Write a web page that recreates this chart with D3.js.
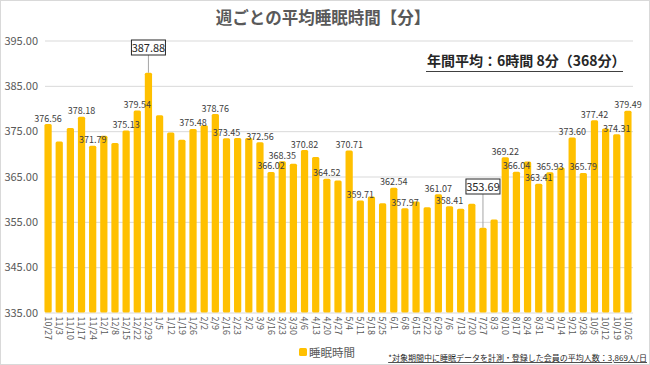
<!DOCTYPE html>
<html>
<head>
<meta charset="utf-8">
<script src="https://cdn.jsdelivr.net/npm/d3@7"></script>
<style>
  body { margin: 0; background: #fff; }
  text { font-family: "Noto Sans CJK JP", "Noto Sans", sans-serif; }
</style>
</head>
<body>
<script>
const w = 650;
const h = 365;

// 週（開始日）
const weeks = ["10/27","11/3","11/10","11/17","11/24","12/1","12/8","12/15","12/22","12/29",
  "1/5","1/12","1/19","1/26","2/2","2/9","2/16","2/23","3/2","3/9","3/16","3/23","3/30",
  "4/6","4/13","4/20","4/27","5/4","5/11","5/18","5/25","6/1","6/8","6/15","6/22","6/29",
  "7/6","7/13","7/20","7/27","8/3","8/10","8/17","8/24","8/31","9/7","9/14","9/21","9/28",
  "10/5","10/12","10/19","10/26"];

// 平均睡眠時間（分）
const sleepMinutes = [376.56,372.7,375.7,378.18,371.79,374.0,372.4,375.13,379.54,387.88,
  378.5,374.7,373.1,375.48,376.3,378.76,373.45,373.5,373.5,372.56,366.02,368.35,367.8,
  370.82,369.3,364.52,364.1,370.71,359.71,360.6,359.1,362.54,357.97,359.5,358.2,361.07,
  358.41,357.9,359.0,353.69,355.5,369.22,366.04,368.3,363.41,365.93,367.0,373.60,365.79,
  377.42,375.6,374.31,379.49];

// ラベルを表示する週と、枠付きで強調する週
const labeledWeeks = ["10/27","11/17","11/24","12/15","12/22","1/26","2/9","2/16","3/9",
  "3/16","3/23","4/6","4/20","5/4","5/11","6/1","6/8","6/29","7/6","8/10","8/17","8/31",
  "9/7","9/21","9/28","10/5","10/19","10/26"];
const boxedWeeks = ["12/29","7/27"];

const yTicks = [335,345,355,365,375,385,395];

const data = weeks.map((d, i) => ({ week: d, value: sleepMinutes[i] }));

const xScale = d3.scaleBand()
  .domain(weeks)
  .range([42.5, 633.5])
  .paddingInner(0.35)
  .paddingOuter(0.175);

const yScale = d3.scaleLinear()
  .domain([335, 395])
  .range([312.5, 40.5]);

const svg = d3.select("body").append("svg").attr("width", w).attr("height", h);

// 外枠
svg.append("rect")
  .attr("x", 0.5).attr("y", 0.5)
  .attr("width", w - 1).attr("height", h - 1)
  .attr("fill", "#fff")
  .attr("stroke", "#d9d9d9");

// タイトル
svg.append("text")
  .attr("x", 323).attr("y", 24)
  .attr("text-anchor", "middle")
  .attr("font-size", "16.5px")
  .attr("font-weight", "bold")
  .attr("fill", "#595959")
  .text("週ごとの平均睡眠時間【分】");

// Y軸（グリッド線つき）
const yAxis = d3.axisLeft(yScale)
  .tickValues(yTicks)
  .tickSize(-(633 - 45))
  .tickFormat(d3.format(".2f"));

const yG = svg.append("g")
  .attr("transform", "translate(45,0)")
  .call(yAxis);
yG.select(".domain").remove();
yG.selectAll(".tick line").attr("stroke", "#d9d9d9");
yG.selectAll(".tick text")
  .attr("x", -7)
  .attr("font-size", "11px")
  .attr("fill", "#595959");

// 年間平均
svg.append("text")
  .attr("x", 427).attr("y", 66)
  .attr("font-size", "14px")
  .attr("font-weight", "bold")
  .attr("fill", "#262626")
  .text("年間平均：6時間 8分（368分）");
svg.append("line")
  .attr("x1", 426).attr("x2", 623)
  .attr("y1", 71.5).attr("y2", 71.5)
  .attr("stroke", "#404040")
  .attr("stroke-width", 1.2);

// 棒
svg.append("g")
  .selectAll("rect")
  .data(data)
  .enter()
  .append("rect")
  .attr("x", d => xScale(d.week))
  .attr("y", d => yScale(d.value))
  .attr("width", xScale.bandwidth())
  .attr("height", d => yScale(335) - yScale(d.value))
  .attr("rx", 1.5)
  .attr("fill", "#FFC000");

// X軸
const xAxis = d3.axisBottom(xScale).tickSize(0);
const xG = svg.append("g")
  .attr("transform", "translate(0," + yScale(335) + ")")
  .call(xAxis);
xG.select(".domain").remove();
xG.selectAll(".tick text")
  .attr("transform", "rotate(90)")
  .attr("x", 4)
  .attr("y", 0)
  .attr("dy", "0.35em")
  .attr("text-anchor", "start")
  .attr("font-size", "9px")
  .attr("fill", "#595959");

// データラベル
svg.append("g")
  .selectAll("text")
  .data(data.filter(d => labeledWeeks.includes(d.week)))
  .enter()
  .append("text")
  .attr("x", d => xScale(d.week) + xScale.bandwidth() / 2)
  .attr("y", d => yScale(d.value) - 2.5)
  .attr("text-anchor", "middle")
  .attr("font-size", "9px")
  .attr("fill", "#404040")
  .text(d => d.value.toFixed(2));

// 枠付きラベル（最大・最小）
const boxed = svg.append("g")
  .selectAll("g")
  .data(data.filter(d => boxedWeeks.includes(d.week)))
  .enter()
  .append("g");

const boxTop = d => d.value > 380 ? 40 : 179;

boxed.append("line")
  .attr("x1", d => xScale(d.week) + xScale.bandwidth() / 2)
  .attr("x2", d => xScale(d.week) + xScale.bandwidth() / 2)
  .attr("y1", d => boxTop(d) + 15)
  .attr("y2", d => yScale(d.value))
  .attr("stroke", "#a6a6a6")
  .attr("stroke-width", 1);

boxed.append("rect")
  .attr("x", d => xScale(d.week) + xScale.bandwidth() / 2 - 17)
  .attr("y", d => boxTop(d))
  .attr("width", 34)
  .attr("height", 15)
  .attr("fill", "#fff")
  .attr("stroke", "#262626")
  .attr("stroke-width", 1);

boxed.append("text")
  .attr("x", d => xScale(d.week) + xScale.bandwidth() / 2)
  .attr("y", d => boxTop(d) + 11.5)
  .attr("text-anchor", "middle")
  .attr("font-size", "11px")
  .attr("fill", "#262626")
  .text(d => d.value.toFixed(2));

// 凡例
svg.append("rect")
  .attr("x", 299).attr("y", 348)
  .attr("width", 8).attr("height", 8)
  .attr("rx", 1.5)
  .attr("fill", "#FFC000");
svg.append("text")
  .attr("x", 309).attr("y", 357)
  .attr("font-size", "11.5px")
  .attr("fill", "#595959")
  .text("睡眠時間");

// 注記
svg.append("text")
  .attr("x", 647).attr("y", 361)
  .attr("text-anchor", "end")
  .attr("font-size", "8px")
  .attr("fill", "#262626")
  .attr("text-decoration", "underline")
  .text("*対象期間中に睡眠データを計測・登録した会員の平均人数：3,869人/日");
</script>
</body>
</html>
